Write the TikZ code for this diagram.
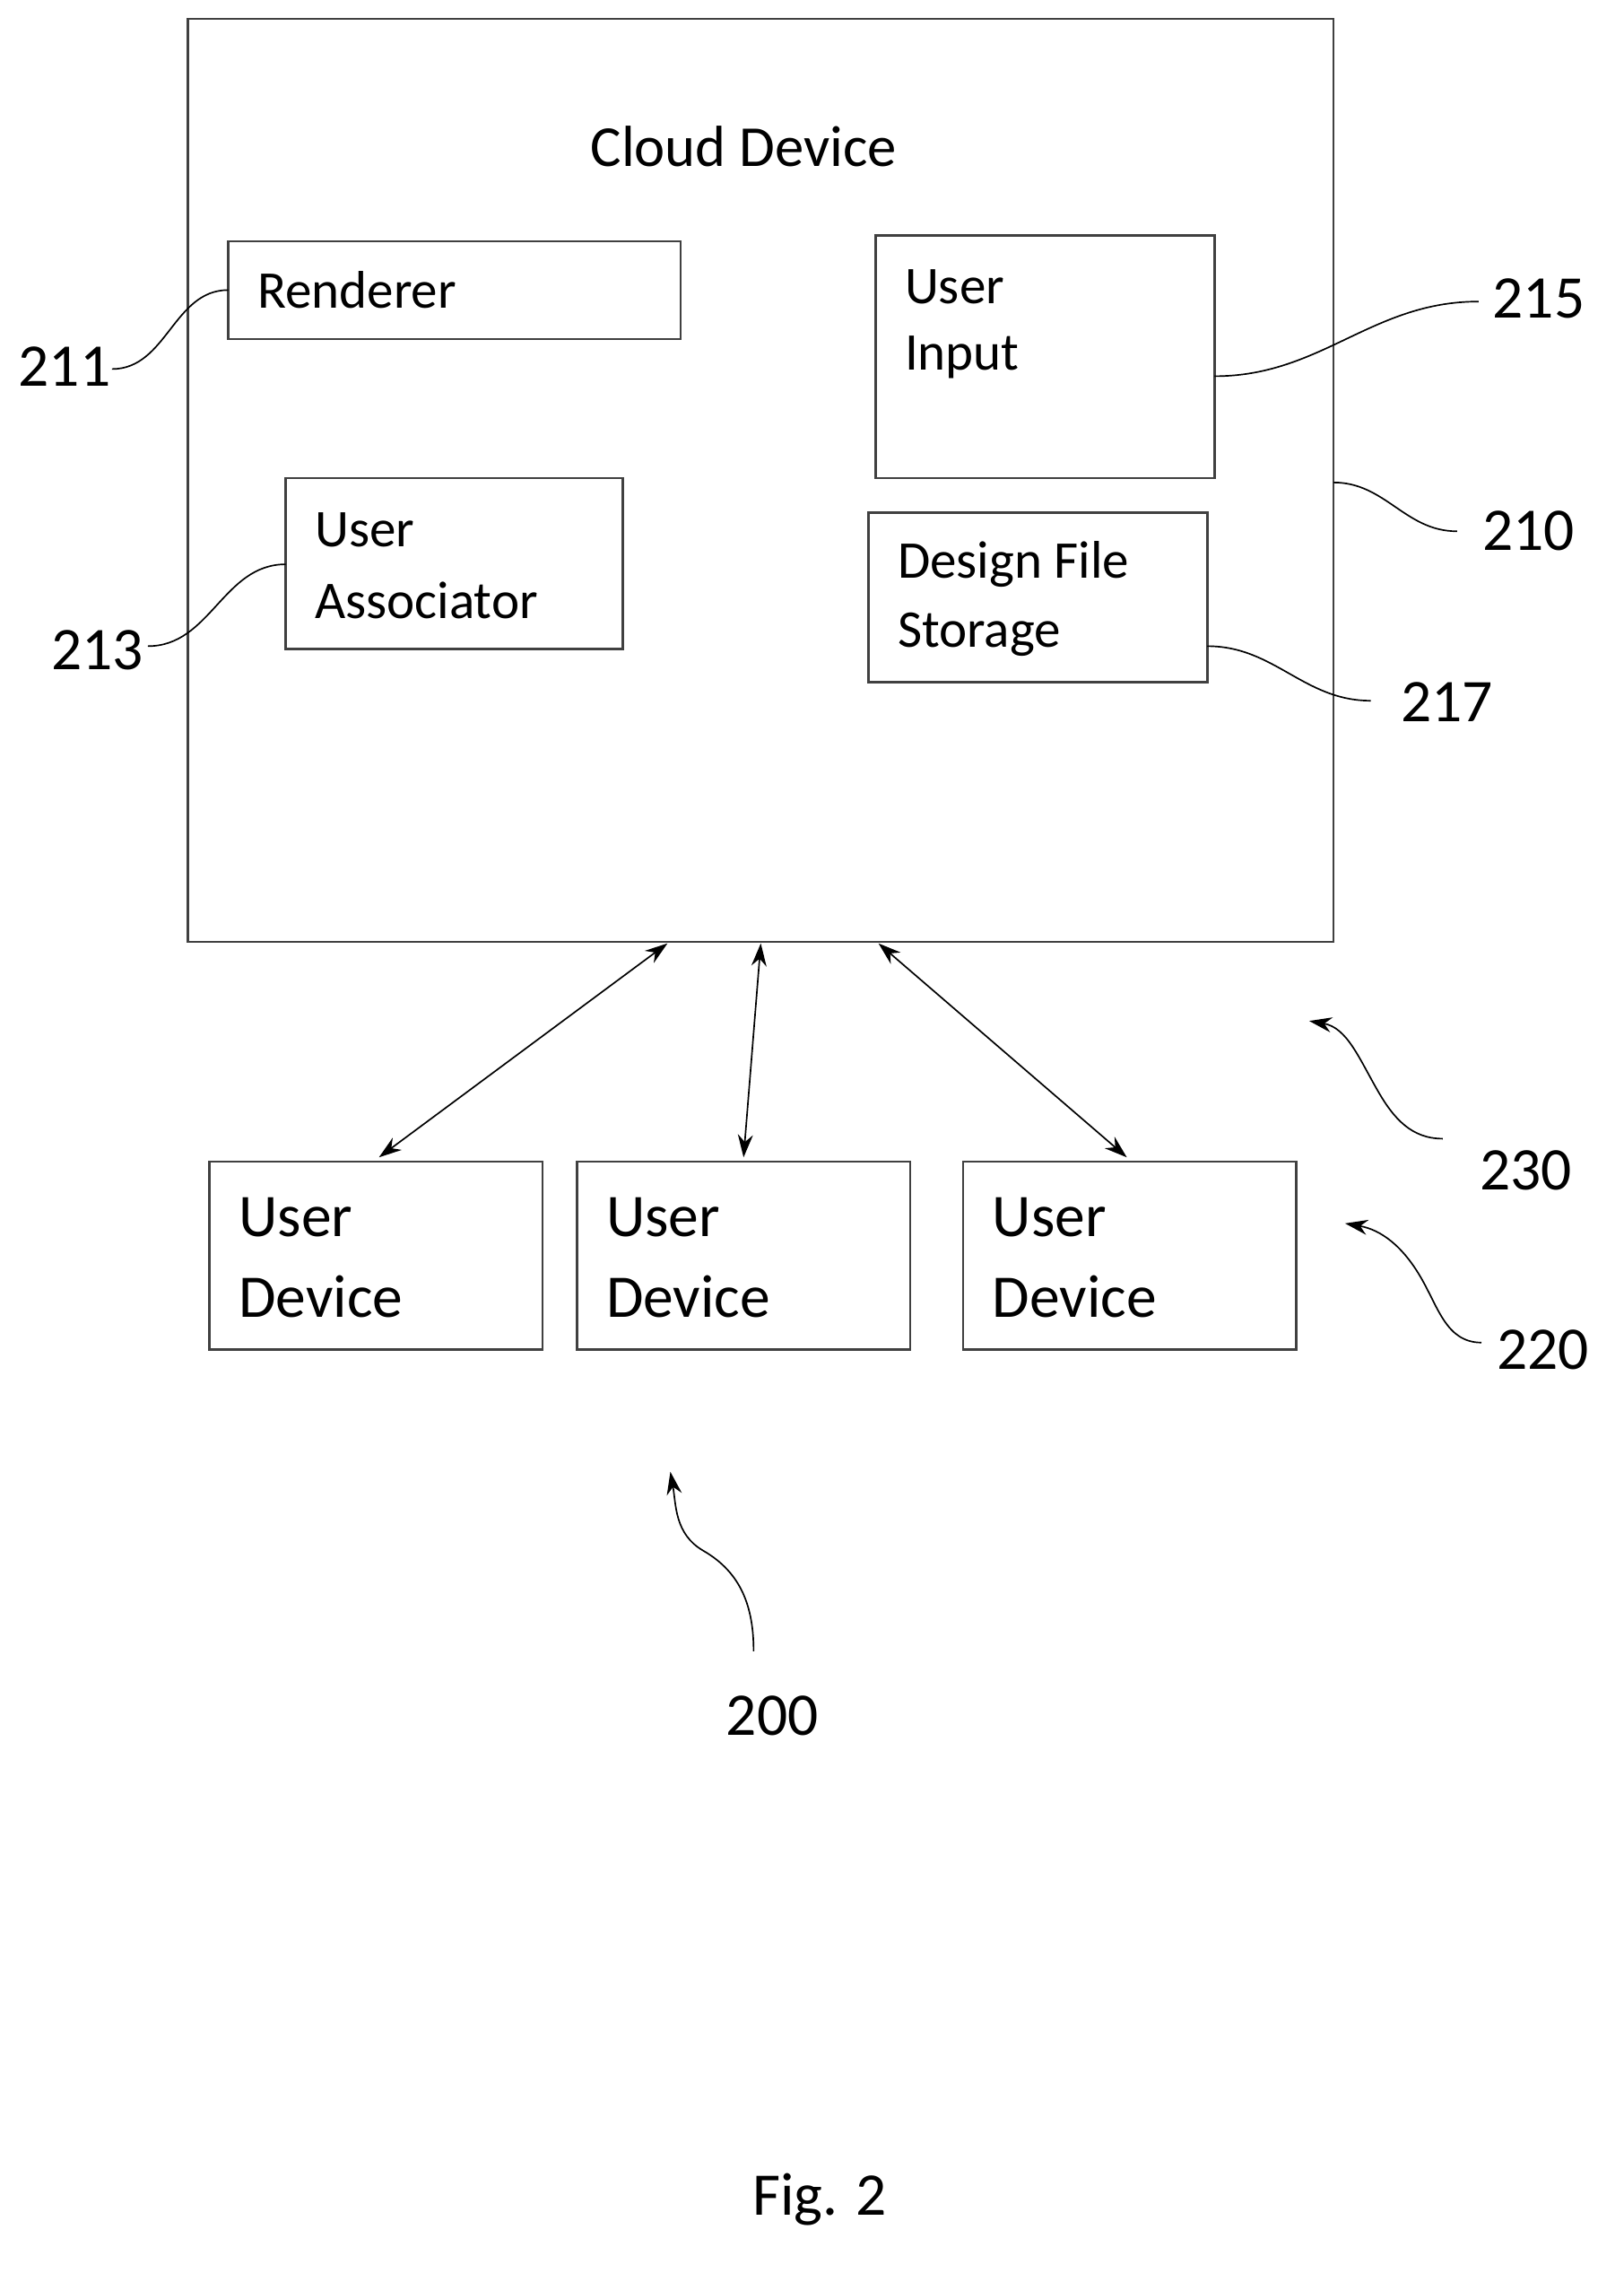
\documentclass[tikz,border=0pt]{standalone}
\usepackage{fontspec}
\setmainfont{Carlito}
\usetikzlibrary{arrows.meta}
\begin{document}
\begin{tikzpicture}[x=0.02cm,y=-0.02cm,
  box/.style={draw=black!75,line width=0.9pt},
  txt/.style={anchor=west,inner sep=0,font=\fontsize{21}{24}\selectfont},
  big/.style={anchor=west,inner sep=0,font=\fontsize{24}{28}\selectfont},
  num/.style={inner sep=0,font=\fontsize{24}{28}\selectfont},
  lead/.style={line width=0.6pt},
  dbl/.style={line width=0.6pt,{Stealth[length=9pt,width=6pt]}-{Stealth[length=9pt,width=6pt]}},
  ptr/.style={line width=0.6pt,-{Stealth[length=9pt,width=6pt]}}]
\useasboundingbox (0,0) rectangle (1131,1583);
\draw[box] (131,13) rectangle (929,656);
\node[inner sep=0,font=\fontsize{23}{26}\selectfont] (cd) at (518,102) {Cloud Device};
\draw[box] (159,168) rectangle (474,236);
\node[txt] (r) at (179,202) {Renderer};
\draw[box] (610,164) rectangle (846,333);
\node[txt] at (630,200) {User};
\node[txt] at (630,249) {Input};
\draw[box] (199,333) rectangle (434,452);
\node[txt] at (219,369) {User};
\node[txt] at (219,418) {Associator};
\draw[box] (605,357) rectangle (841,475);
\node[txt] at (625,393) {Design File};
\node[txt] at (625,442) {Storage};
\foreach \x in {146,402,671}{
  \draw[box] (\x,809) rectangle ++(232,131);
  \node[big] at (\x+20,848) {User};
  \node[big] at (\x+20,903) {Device};
}
\coordinate (a1) at (465,657); \coordinate (b1) at (264,806);
\coordinate (a2) at (530,657); \coordinate (b2) at (518,806);
\coordinate (a3) at (612,657); \coordinate (b3) at (785,806);
\draw[dbl] (a1) -- (b1);
\draw[dbl] (a2) -- (b2);
\draw[dbl] (a3) -- (b3);
\node[num] (n211) at (45,255) {211};
\draw[lead] (78,257) to[out=0,in=180] (159,202);
\node[num] (n213) at (68,453) {213};
\draw[lead] (103,450) to[out=0,in=180] (199,393);
\node[num] (n215) at (1072,208) {215};
\draw[lead] (1030,210) to[out=180,in=0] (846,262);
\node[num] (n210) at (1065,370) {210};
\draw[lead] (1015,370) to[out=180,in=0] (929,336);
\node[num] (n217) at (1008,489) {217};
\draw[lead] (955,488) to[out=180,in=0] (841,450);
\node[num] (n230) at (1063,815) {230};
\draw[ptr] (1005,793) to[out=180,in=-60] (960,760) to[out=120,in=-10] (912,711);
\node[num] (n220) at (1075,940) {220};
\draw[ptr] (1032,935) to[out=180,in=-60] (990,890) to[out=120,in=-10] (937,852);
\node[num] (n200) at (538,1195) {200};
\draw[ptr] (525,1150) to[out=90,in=-30] (490,1080) to[out=150,in=-80] (467,1025);
\node[num] (fig) at (571,1532) {Fig. 2};
\end{tikzpicture}
\end{document}
